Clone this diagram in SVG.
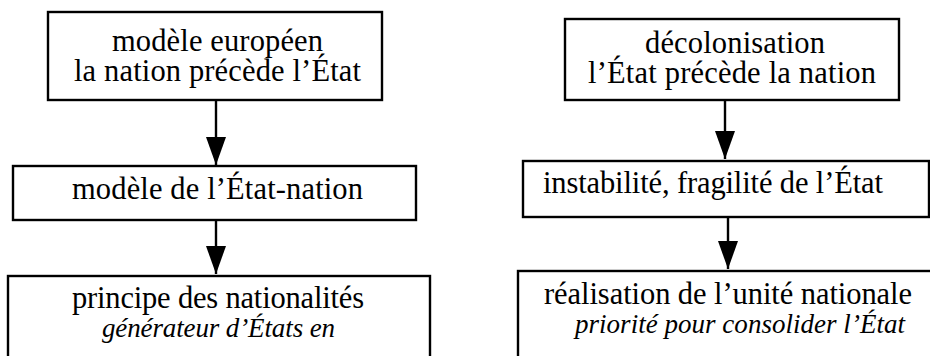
<svg xmlns="http://www.w3.org/2000/svg" width="930" height="356" viewBox="0 0 930 356">
<defs>
<style>
.box{fill:#fff;stroke:#000;stroke-width:2.4}
.t{font-family:Liberation Serif, serif;font-size:30.5px;fill:#000}
.i{font-style:italic;font-size:27px}
.conn{stroke:#000;stroke-width:2.4;fill:none;marker-end:url(#ah)}
</style>
<marker id="ah" viewBox="0 0 28 20" refX="28" refY="10" markerWidth="28" markerHeight="20" markerUnits="userSpaceOnUse" orient="auto">
<path d="M0,0 L28,10 L0,20 z" fill="#000"/>
</marker>
</defs>
<rect width="930" height="356" fill="#fff"/>
<g font-family="Liberation Serif, serif">
<g id="n1">
<rect class="box" x="48" y="12" width="334" height="88"/>
<text class="t" x="112" y="51" textLength="211">modèle européen</text>
<text class="t" x="74" y="81" textLength="287">la nation précède l’État</text>
</g>
<g id="n2">
<rect class="box" x="13" y="166" width="403" height="54"/>
<text class="t" x="72" y="199" textLength="291">modèle de l’État-nation</text>
</g>
<g id="n3">
<rect class="box" x="8" y="276" width="422" height="100"/>
<text class="t" x="72" y="308" textLength="292">principe des nationalités</text>
<text class="t i" x="102" y="337" textLength="233">générateur d’États en</text>
</g>
<g id="n4">
<rect class="box" x="565" y="19" width="334" height="81"/>
<text class="t" x="645" y="53" textLength="180">décolonisation</text>
<text class="t" x="588" y="83" textLength="288">l’État précède la nation</text>
</g>
<g id="n5">
<rect class="box" x="523" y="161" width="406" height="56"/>
<text class="t" x="543" y="193" textLength="340">instabilité, fragilité de l’État</text>
</g>
<g id="n6">
<rect class="box" x="518" y="271" width="430" height="100"/>
<text class="t" x="544" y="304" textLength="368">réalisation de l’unité nationale</text>
<text class="t i" x="575" y="333" textLength="330">priorité pour consolider l’État</text>
</g>
</g>
<g id="connectors">
<line class="conn" x1="216" y1="100" x2="216" y2="165"/>
<line class="conn" x1="216" y1="220" x2="216" y2="274"/>
<line class="conn" x1="725" y1="100" x2="725" y2="159"/>
<line class="conn" x1="728" y1="217" x2="728" y2="269"/>
</g>
</svg>
